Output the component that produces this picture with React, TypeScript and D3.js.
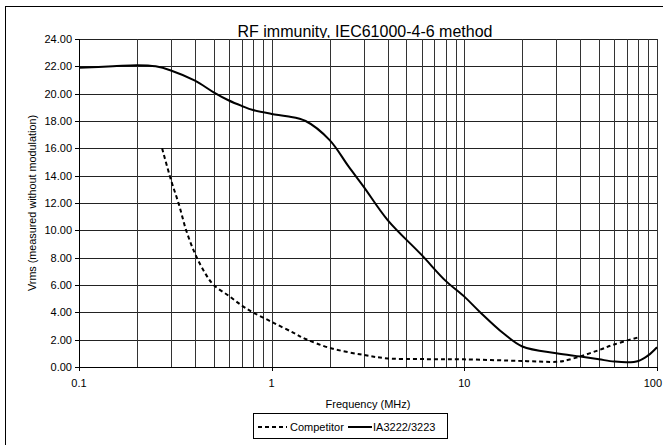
import React from "react";
import * as d3 from "d3";

const iaFreq = [0.1, 0.15, 0.2, 0.25, 0.3, 0.4, 0.5, 0.6, 0.7, 0.8, 1, 1.2, 1.5, 2, 2.5, 3, 4, 6, 8, 10, 12, 16, 20, 30, 40, 50, 60, 70, 80, 90, 100];
const iaValues = [21.9, 22.0, 22.08, 22.0, 21.7, 20.95, 20.1, 19.5, 19.1, 18.8, 18.52, 18.35, 18.0, 16.6, 14.7, 13.2, 10.75, 8.2, 6.3, 5.15, 4.05, 2.45, 1.5, 1.0, 0.76, 0.56, 0.4, 0.34, 0.44, 0.85, 1.45];

const compFreq = [0.27, 0.3, 0.33, 0.36, 0.4, 0.45, 0.5, 0.6, 0.7, 0.8, 1, 1.3, 1.5, 2, 3, 4, 6, 10, 20, 30, 33, 40, 50, 60, 80];
const compValues = [16.0, 13.7, 11.9, 10.0, 8.3, 6.9, 6.0, 5.2, 4.5, 4.0, 3.3, 2.5, 2.05, 1.4, 0.88, 0.63, 0.58, 0.56, 0.44, 0.38, 0.45, 0.78, 1.24, 1.65, 2.17];

const yTicks = [0, 2, 4, 6, 8, 10, 12, 14, 16, 18, 20, 22, 24];
const xTickLabels = [0.1, 1, 10, 100];

const title = "RF immunity, IEC61000-4-6 method";
const xTitle = "Frequency (MHz)";
const yTitle = "Vrms (measured without modulation)";
const seriesNames = ["Competitor", "IA3222/3223"];

const FONT = "'Liberation Sans', Arial, sans-serif";

export default function App() {
  const W = 663, H = 445;
  const x = d3.scaleLog().domain([0.1, 100]).range([79, 657]);
  const y = d3.scaleLinear().domain([0, 24]).range([367, 39]);

  const minor: number[] = [];
  for (let dec = 0.1; dec < 100; dec *= 10) {
    for (let k = 1; k <= 10; k++) minor.push(+(dec * k).toPrecision(3));
  }

  const line = d3
    .line<[number, number]>()
    .x((d) => x(d[0]))
    .y((d) => y(d[1]))
    .curve(d3.curveCatmullRom.alpha(0.5));

  const iaPath = line(iaFreq.map((f, i) => [f, iaValues[i]] as [number, number])) || "";
  const compPath = line(compFreq.map((f, i) => [f, compValues[i]] as [number, number])) || "";

  const [x0, x1] = x.range();
  const [yb, yt] = y.range();

  return (
    <svg
      width={W}
      height={H}
      style={{ position: "absolute", left: 0, top: 0, background: "#fff" }}
      fontFamily={FONT}
    >
      <rect x={0} y={0} width={W} height={H} fill="#fff" />
      <rect x={5.5} y={6.5} width={W + 10} height={H + 10} fill="none" stroke="#000" strokeWidth={1} />
      <defs>
        <clipPath id="titleClip">
          <rect x={0} y={0} width={W} height={yt - 1} />
        </clipPath>
      </defs>
      <text x={365} y={37} textAnchor="middle" fontSize={16} fill="#000" clipPath="url(#titleClip)">
        {title}
      </text>

      {yTicks.map((t) => (
        <line key={"h" + t} x1={x0} x2={x1} y1={Math.round(y(t)) + 0.5} y2={Math.round(y(t)) + 0.5} stroke="#222" strokeWidth={1} />
      ))}
      {minor.map((f, i) => (
        <line key={"v" + i} x1={Math.round(x(f)) + 0.5} x2={Math.round(x(f)) + 0.5} y1={yt} y2={yb} stroke="#333" strokeWidth={1} />
      ))}
      <line x1={x0 + 0.5} x2={x0 + 0.5} y1={yt} y2={yb} stroke="#000" />
      {yTicks.map((t) => (
        <g key={"yt" + t}>
          <line x1={x0 - 4} x2={x0} y1={Math.round(y(t)) + 0.5} y2={Math.round(y(t)) + 0.5} stroke="#000" />
          <text x={x0 - 7} y={y(t) + 4} textAnchor="end" fontSize={11} fill="#000">
            {t.toFixed(2)}
          </text>
        </g>
      ))}
      <line x1={x0} x2={x1} y1={Math.round(yb) + 0.5} y2={Math.round(yb) + 0.5} stroke="#000" />
      {xTickLabels.map((t, i) => (
        <g key={"xt" + t}>
          <line x1={Math.round(x(t)) + 0.5} x2={Math.round(x(t)) + 0.5} y1={yb} y2={yb + 4} stroke="#000" />
          <text
            x={i === xTickLabels.length - 1 ? W - 1 : x(t)}
            y={387}
            textAnchor={i === xTickLabels.length - 1 ? "end" : "middle"}
            fontSize={11}
            fill="#000"
          >
            {String(t)}
          </text>
        </g>
      ))}

      <path d={compPath} fill="none" stroke="#000" strokeWidth={2} strokeDasharray="4,3" />
      <path d={iaPath} fill="none" stroke="#000" strokeWidth={2} />

      <text x={368} y={408} textAnchor="middle" fontSize={11} fill="#000">
        {xTitle}
      </text>
      <text
        transform={`translate(36, ${(yt + yb) / 2}) rotate(-90)`}
        textAnchor="middle"
        fontSize={10.8}
        fill="#000"
      >
        {yTitle}
      </text>

      <rect x={253.5} y={413.5} width={194} height={25} fill="#fff" stroke="#000" strokeWidth={1} />
      <line x1={258} x2={287} y1={427} y2={427} stroke="#000" strokeWidth={2} strokeDasharray="4,3" />
      <text x={290} y={431} fontSize={11} fill="#000">{seriesNames[0]}</text>
      <line x1={348} x2={372} y1={427} y2={427} stroke="#000" strokeWidth={2} />
      <text x={373} y={431} fontSize={11} fill="#000">{seriesNames[1]}</text>
    </svg>
  );
}
